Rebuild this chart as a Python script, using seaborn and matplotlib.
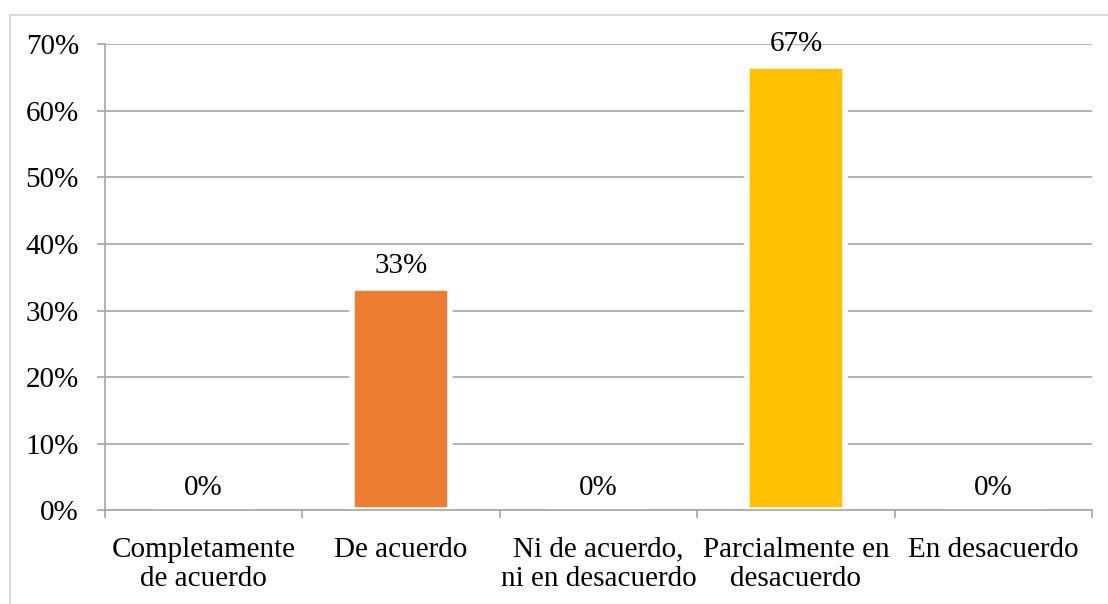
import matplotlib
matplotlib.use('Agg')
import matplotlib.pyplot as plt
import matplotlib.ticker as mtick
from matplotlib.patches import Rectangle
import seaborn as sns

# Datos del gráfico
categorias = ['Completamente\nde acuerdo', 'De acuerdo', 'Ni de acuerdo,\nni en desacuerdo',
              'Parcialmente en\ndesacuerdo', 'En desacuerdo']
valores = [0.0, 1 / 3, 0.0, 2 / 3, 0.0]
etiquetas = ['0%', '33%', '0%', '67%', '0%']
colores = ['#5B9BD5', '#ED7D31', '#A5A5A5', '#FFC000', '#4472C4']

sns.set_style('white')
plt.rcParams['font.family'] = ['Liberation Serif', 'DejaVu Serif']
plt.rcParams['text.color'] = 'black'
plt.rcParams['xtick.labelcolor'] = 'black'
plt.rcParams['ytick.labelcolor'] = 'black'

fig = plt.figure(figsize=(11.08, 6.04), dpi=100)
W, H = 1108, 604
ax = fig.add_axes([105 / W, 1 - 510.3 / H, (1092 - 105) / W, (510.3 - 44.3) / H])

sns.barplot(x=categorias, y=valores, hue=categorias, palette=colores, legend=False,
            width=0.5, edgecolor='white', linewidth=4, saturation=1, ax=ax)

# Etiquetas de datos
for i, (v, t) in enumerate(zip(valores, etiquetas)):
    ax.annotate(t, (i, v), xytext=(0, 7), textcoords='offset points',
                ha='center', va='bottom', fontsize=21, color='black')

ax.set_ylim(0, 0.7)
ax.set_xlim(-0.5, 4.5)
ax.yaxis.set_major_locator(mtick.MultipleLocator(0.1))
ax.yaxis.set_major_formatter(mtick.PercentFormatter(1, decimals=0))
ax.set_axisbelow(True)
ax.grid(axis='y', color='#A6A6A6', linewidth=1.2)
ax.grid(axis='x', visible=False)

for s in ['top', 'right']:
    ax.spines[s].set_visible(False)
for s in ['left', 'bottom']:
    ax.spines[s].set_color('#A6A6A6')
    ax.spines[s].set_linewidth(1.2)
    ax.spines[s].set_zorder(3)

ax.tick_params(axis='y', which='major', left=True, length=5.8, width=1.2, color='#A6A6A6',
               pad=13, labelsize=21)
ax.set_xticks([i - 0.5 for i in range(len(categorias) + 1)], minor=True)
ax.tick_params(axis='x', which='minor', bottom=True, length=5.8, width=1.2, color='#A6A6A6')
ax.tick_params(axis='x', which='major', length=0, pad=19, labelsize=21)
for lab in ax.get_xticklabels():
    lab.set_linespacing(1.17)
ax.set_xlabel('')
ax.set_ylabel('')

# Borde del área del gráfico
fig.patches.append(Rectangle((10 / W, -0.1), 1.2, 1 - 15 / H + 0.1, transform=fig.transFigure,
                             fill=False, edgecolor='#D9D9D9', linewidth=1.5, zorder=0))

fig.savefig('out.png', dpi=100)
